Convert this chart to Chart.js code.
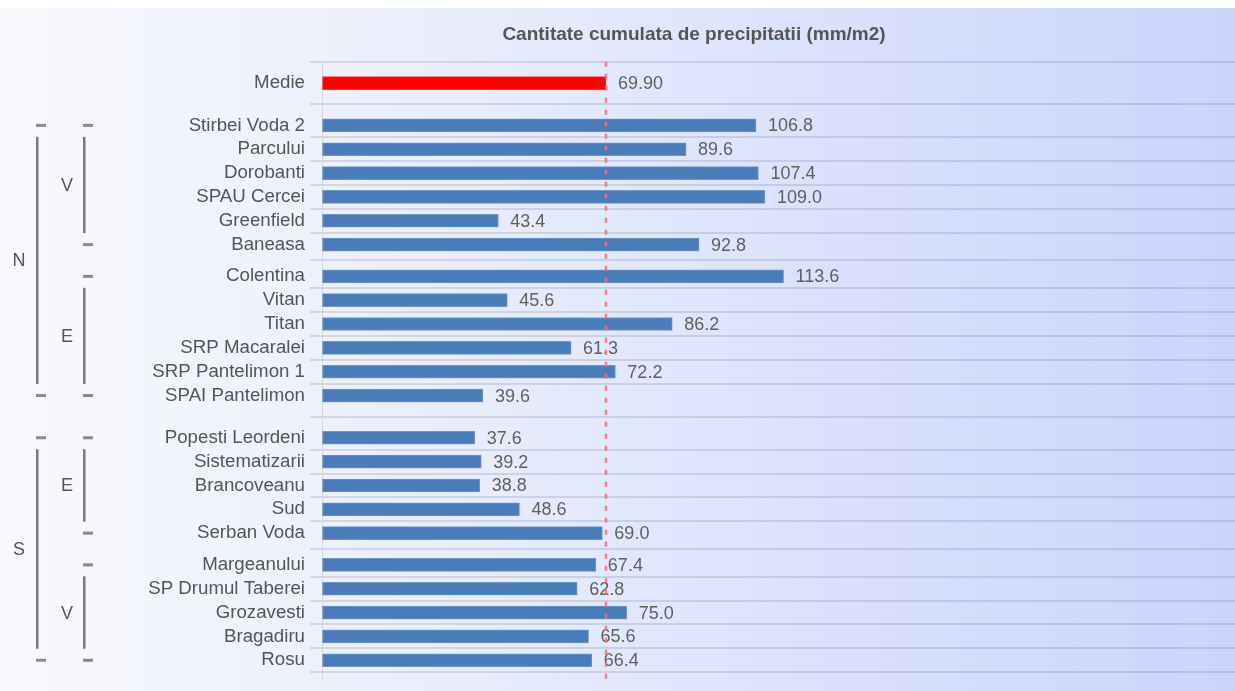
<!DOCTYPE html>
<html>
<head>
<meta charset="utf-8">
<script src="https://cdn.jsdelivr.net/npm/chart.js@4/dist/chart.umd.min.js"></script>
<style>
  html, body { margin: 0; padding: 0; background: #ffffff; }
  #wrap { position: relative; width: 1235px; height: 691px; }
  #bg { position: absolute; left: 0; top: 8px; width: 1235px; height: 683px;
        background: linear-gradient(to right, #f8f9fd 0%, #eaeefb 35%, #d8e0fc 70%, #c9d5fb 100%); }
  canvas { position: absolute; left: 0; top: 0; }
</style>
</head>
<body>
<div id="wrap"><div id="bg"></div><canvas id="c" width="1235" height="691"></canvas></div>
<script>
// ---- data ----
const titleText = 'Cantitate cumulata de precipitatii (mm/m2)';
const categories = ['Medie', 'Stirbei Voda 2', 'Parcului', 'Dorobanti', 'SPAU Cercei', 'Greenfield', 'Baneasa',
  'Colentina', 'Vitan', 'Titan', 'SRP Macaralei', 'SRP Pantelimon 1', 'SPAI Pantelimon',
  'Popesti Leordeni', 'Sistematizarii', 'Brancoveanu', 'Sud', 'Serban Voda',
  'Margeanului', 'SP Drumul Taberei', 'Grozavesti', 'Bragadiru', 'Rosu'];
const values = [69.90, 106.8, 89.6, 107.4, 109.0, 43.4, 92.8,
  113.6, 45.6, 86.2, 61.3, 72.2, 39.6,
  37.6, 39.2, 38.8, 48.6, 69.0,
  67.4, 62.8, 75.0, 65.6, 66.4];
const meanValue = 69.90;
const regionLabels = ['N', 'S'];
const regionSizes = [12, 10];
const zoneLabels = ['V', 'E', 'E', 'V'];
const zoneSizes = [6, 6, 5, 5];

// ---- layout (derived from group structure) ----
const BIG_GAP = 0.77, SMALL_GAP = 0.33, TOP_PAD = 0.9, BOTTOM_PAD = 0.48;
const regionOf = [-1], zoneOf = [-1];
regionSizes.forEach((n, r) => { for (let i = 0; i < n; i++) regionOf.push(r); });
zoneSizes.forEach((n, z) => { for (let i = 0; i < n; i++) zoneOf.push(z); });
const pos = [0];
for (let i = 1; i < categories.length; i++) {
  let step = 1;
  if (regionOf[i] !== regionOf[i - 1]) step += BIG_GAP;
  else if (zoneOf[i] !== zoneOf[i - 1]) step += SMALL_GAP;
  pos.push(pos[i - 1] + step);
}
const yMin = -TOP_PAD, yMax = pos[pos.length - 1] + BOTTOM_PAD;
// boundaries between rows (grid lines)
const bounds = [yMin];
for (let i = 0; i < pos.length - 1; i++) bounds.push((pos[i] + pos[i + 1]) / 2);
bounds.push(yMax);

const FONT = '"Liberation Sans", Arial, sans-serif';
const TEXT = '#555555';
const GRID = 'rgba(110,120,160,0.22)';

const extras = {
  id: 'extras',
  afterDatasetsDraw(chart) {
    const ctx = chart.ctx, xs = chart.scales.x, ys = chart.scales.y, area = chart.chartArea;
    const meta = chart.getDatasetMeta(0);
    ctx.save();
    // value labels
    ctx.font = '18px ' + FONT;
    ctx.fillStyle = '#5f5f5f';
    ctx.textAlign = 'left';
    ctx.textBaseline = 'middle';
    meta.data.forEach((bar, i) => {
      const txt = i === 0 ? values[i].toFixed(2) : values[i].toFixed(1);
      ctx.fillText(txt, bar.x + 12, bar.y + 1);
    });
    // mean dashed line
    const mx = xs.getPixelForValue(meanValue);
    ctx.strokeStyle = 'rgba(238,110,122,0.85)';
    ctx.lineWidth = 2.5;
    ctx.setLineDash([5, 7]);
    ctx.beginPath();
    ctx.moveTo(mx, area.top);
    ctx.lineTo(mx, area.bottom + 10);
    ctx.stroke();
    ctx.setLineDash([]);
    // title
    ctx.font = 'bold 19px ' + FONT;
    ctx.fillStyle = TEXT;
    ctx.textAlign = 'center';
    ctx.fillText(titleText, 694, 35);
    // group brackets
    const half = 11.5;
    function bracket(first, last, label, lineX, labelX) {
      const y1 = ys.getPixelForValue(pos[first]);
      const y2 = ys.getPixelForValue(pos[last]);
      ctx.fillStyle = '#8a8a8a';
      ctx.fillRect(lineX - 1, y1 - 1.5, 10, 3);
      ctx.fillRect(lineX - 1, y2 - 1.5, 10, 3);
      ctx.fillStyle = '#7a7a7a';
      ctx.fillRect(lineX - 1, y1 + half, 2.5, (y2 - half) - (y1 + half));
      ctx.fillStyle = TEXT;
      ctx.font = '18px ' + FONT;
      ctx.textAlign = 'center';
      ctx.textBaseline = 'middle';
      ctx.fillText(label, labelX, (y1 + y2) / 2 + 1);
    }
    let start = 1;
    regionSizes.forEach((n, r) => { bracket(start, start + n - 1, regionLabels[r], 37, 19); start += n; });
    start = 1;
    zoneSizes.forEach((n, z) => { bracket(start, start + n - 1, zoneLabels[z], 84, 67); start += n; });
    ctx.restore();
  }
};

new Chart(document.getElementById('c'), {
  type: 'bar',
  data: {
    datasets: [{
      data: values.map((v, i) => ({ x: v, y: pos[i] })),
      backgroundColor: values.map((v, i) => i === 0 ? '#ff0000' : '#4a7cb9'),
      borderColor: values.map((v, i) => i === 0 ? '#ff2a2a' : '#6d96c9'),
      borderWidth: 1,
      borderSkipped: false,
      barThickness: 13
    }]
  },
  options: {
    indexAxis: 'y',
    responsive: false,
    animation: false,
    layout: { padding: { top: 61.7, bottom: 9.3, left: 0, right: 0 } },
    plugins: { legend: { display: false }, tooltip: { enabled: false }, title: { display: false } },
    scales: {
      x: {
        type: 'linear', min: 0, max: 224.7, offset: false,
        ticks: { display: false },
        border: { display: false },
        grid: {
          offset: false, drawOnChartArea: false, drawTicks: true, tickLength: 10, lineWidth: 1,
          tickColor: (c) => (c.tick && c.tick.value === 0) ? '#d3d7e3' : 'rgba(0,0,0,0)'
        }
      },
      y: {
        type: 'linear', position: 'left', weight: 1, reverse: true, min: yMin, max: yMax, offset: false,
        afterBuildTicks: (s) => { s.ticks = pos.map(v => ({ value: v })); },
        afterFit: (s) => { s.width = 305; },
        ticks: {
          autoSkip: false, padding: 0,
          font: { family: FONT, size: 18.7 }, color: TEXT,
          callback: (v, i) => categories[i]
        },
        border: { display: false },
        grid: { display: false, drawTicks: false, tickLength: 0, offset: false }
      },
      yGrid: {
        type: 'linear', axis: 'y', position: 'left', weight: 0, reverse: true, min: yMin, max: yMax, offset: false,
        afterBuildTicks: (s) => { s.ticks = bounds.map(v => ({ value: v })); },
        afterFit: (s) => { s.width = 17; },
        ticks: { display: false },
        border: { display: true, color: '#d3d7e3', width: 1 },
        grid: { offset: false, tickLength: 12, lineWidth: 2, color: GRID, tickColor: GRID }
      }
    }
  },
  plugins: [extras]
});
</script>
</body>
</html>
